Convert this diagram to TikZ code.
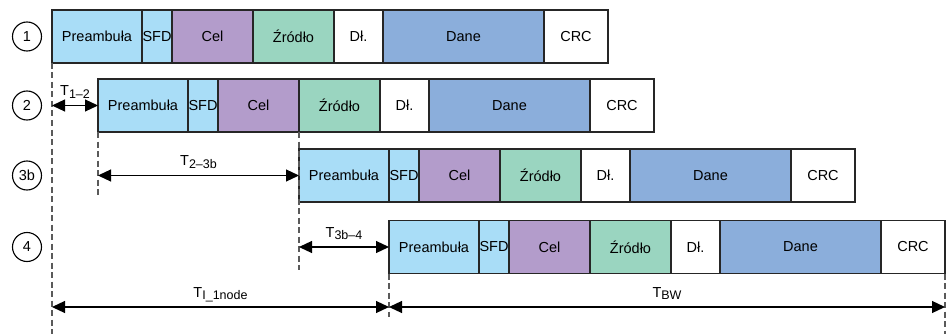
\documentclass[tikz,border=0pt]{standalone}
\usepackage{fontspec}
\setmainfont{Liberation Sans}
\usetikzlibrary{arrows.meta,positioning,calc}
\definecolor{preBlue}{HTML}{A9DDF7}
\definecolor{celPurple}{HTML}{B39CCB}
\definecolor{srcGreen}{HTML}{9AD5C0}
\definecolor{daneBlue}{HTML}{8BAEDB}
\definecolor{guideGray}{HTML}{5A5A5A}
\newcommand{\tlbl}[1]{T\raisebox{-0.35ex}{\fontsize{12.5}{13}\selectfont #1}}

\begin{document}
\begin{tikzpicture}[
    x=1pt, y=-1pt,
    node distance=0pt,
    field/.style={
      rectangle, draw=black!85, line width=1.2pt, anchor=west, outer sep=0pt,
      minimum height=53pt, inner sep=0pt, font=\fontsize{14.5}{17}\selectfont
    },
    rowno/.style={circle, draw=black, line width=1.1pt, minimum size=29pt, inner sep=0pt,
      font=\fontsize{14.5}{17}\selectfont},
    guide/.style={draw=guideGray, line width=1.2pt, dash pattern=on 6pt off 3.5pt},
    span/.style={{Triangle[length=13pt,width=12pt]}-{Triangle[length=13pt,width=12pt]}, line width=1.2pt},
    tlab/.style={anchor=base, yshift=10pt, inner sep=0pt, font=\fontsize{14.5}{17}\selectfont}
  ]
  \useasboundingbox (0,0) rectangle (952,334);

  % one frame per row
  \foreach \r/\x/\y in {1/52/36.5, 2/98/105.5, 3b/299/175.5, 4/389/247} {
    \node[rowno] (no\r) at (27,\y) {\r};
    \node[field, fill=preBlue, minimum width=90pt] (pre\r) at (\x,\y) {Preambuła};
    \node[field, fill=preBlue, minimum width=30pt, right=of pre\r] (sfd\r) {SFD};
    \node[field, fill=celPurple, minimum width=81pt, right=of sfd\r] (cel\r) {Cel};
    \node[field, fill=srcGreen, minimum width=81pt, right=of cel\r] (src\r) {Źródło};
    \node[field, fill=white, minimum width=49pt, right=of src\r] (len\r) {Dł.};
    \node[field, fill=daneBlue, minimum width=161pt, right=of len\r] (dat\r) {Dane};
    \node[field, fill=white, minimum width=64pt, right=of dat\r] (crc\r) {CRC};
  }

  % guide lines
  \draw[guide] (pre1.south west) -- (pre1.south west |- 0,334);
  \draw[guide] (pre2.south west) -- (pre2.south west |- 0,195);
  \draw[guide] (cel2.south east) -- (cel2.south east |- 0,270);
  \draw[guide] (pre4.south west) -- (pre4.south west |- 0,317);
  \draw[guide] (crc4.south east) -- (crc4.south east |- 0,334);

  % time spans
  \coordinate (bot) at (0,307);
  \draw[span] (pre1.west |- pre2.west) -- node[tlab] (t12) {\tlbl{1–2}} (pre2.west);
  \draw[span] (pre2.west |- pre3b.west) -- node[tlab] (t23) {\tlbl{2–3b}} (pre3b.west);
  \draw[span] (pre3b.west |- pre4.west) -- node[tlab] (t34) {\tlbl{3b–4}} (pre4.west);
  \draw[span] (pre1.west |- bot) -- node[tlab] (tI) {\tlbl{I\_1node}} (pre4.west |- bot);
  \draw[span] (pre4.west |- bot) -- node[tlab] (tBW) {\tlbl{BW}} (crc4.east |- bot);
\end{tikzpicture}
\end{document}
